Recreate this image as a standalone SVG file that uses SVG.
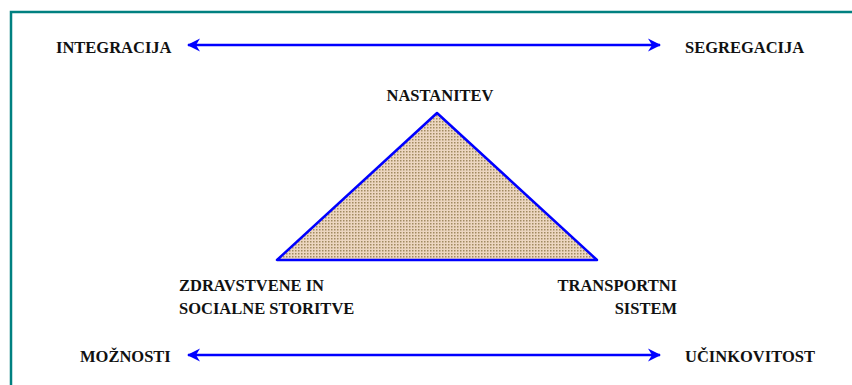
<svg xmlns="http://www.w3.org/2000/svg" width="852" height="385" viewBox="0 0 852 385">
<style>
.t{font-family:"Liberation Serif","Times New Roman",serif;font-weight:bold;font-size:16.5px;fill:#111}
.ax{stroke:#0000ff;stroke-width:2.5;fill:none}
.fr{stroke:#008080;stroke-width:2.5;fill:none}
</style>
<defs>
<marker id="ah" markerUnits="userSpaceOnUse" markerWidth="14" markerHeight="14" refX="12" refY="7" orient="auto-start-reverse">
<path d="M0,0.5 L13,7 L0,13.5 L4,7 z" fill="#0000ff"/>
</marker>
<pattern id="dots" patternUnits="userSpaceOnUse" width="3" height="3">
<rect width="3" height="3" fill="#ecd6c0"/>
<rect x="1" y="1" width="1.5" height="1.5" fill="#a08a60"/>
</pattern>
</defs>
<g id="frame">
<path class="fr" d="M11,385 L11,12 L852,12"/>
</g>
<g id="connectors">
<line class="ax" x1="188" y1="45" x2="660" y2="45" marker-start="url(#ah)" marker-end="url(#ah)"/>
<line class="ax" x1="188" y1="355" x2="660" y2="355" marker-start="url(#ah)" marker-end="url(#ah)"/>
</g>
<g id="triangle">
<polygon points="437,113 277,260 597,260" fill="url(#dots)" stroke="#0000ff" stroke-width="2.5" stroke-linejoin="round"/>
</g>
<g id="n-integracija"><text class="t" x="56" y="53">INTEGRACIJA</text></g>
<g id="n-segregacija"><text class="t" x="685" y="53">SEGREGACIJA</text></g>
<g id="n-nastanitev"><text class="t" x="440" y="101" text-anchor="middle">NASTANITEV</text></g>
<g id="n-zdravstvene">
<text class="t" x="179" y="291">ZDRAVSTVENE IN</text>
<text class="t" x="179" y="314">SOCIALNE STORITVE</text>
</g>
<g id="n-transport">
<text class="t" x="677" y="291" text-anchor="end">TRANSPORTNI</text>
<text class="t" x="677" y="314" text-anchor="end">SISTEM</text>
</g>
<g id="n-moznosti"><text class="t" x="80" y="362">MOŽNOSTI</text></g>
<g id="n-ucinkovitost"><text class="t" x="685" y="362">UČINKOVITOST</text></g>
</svg>
